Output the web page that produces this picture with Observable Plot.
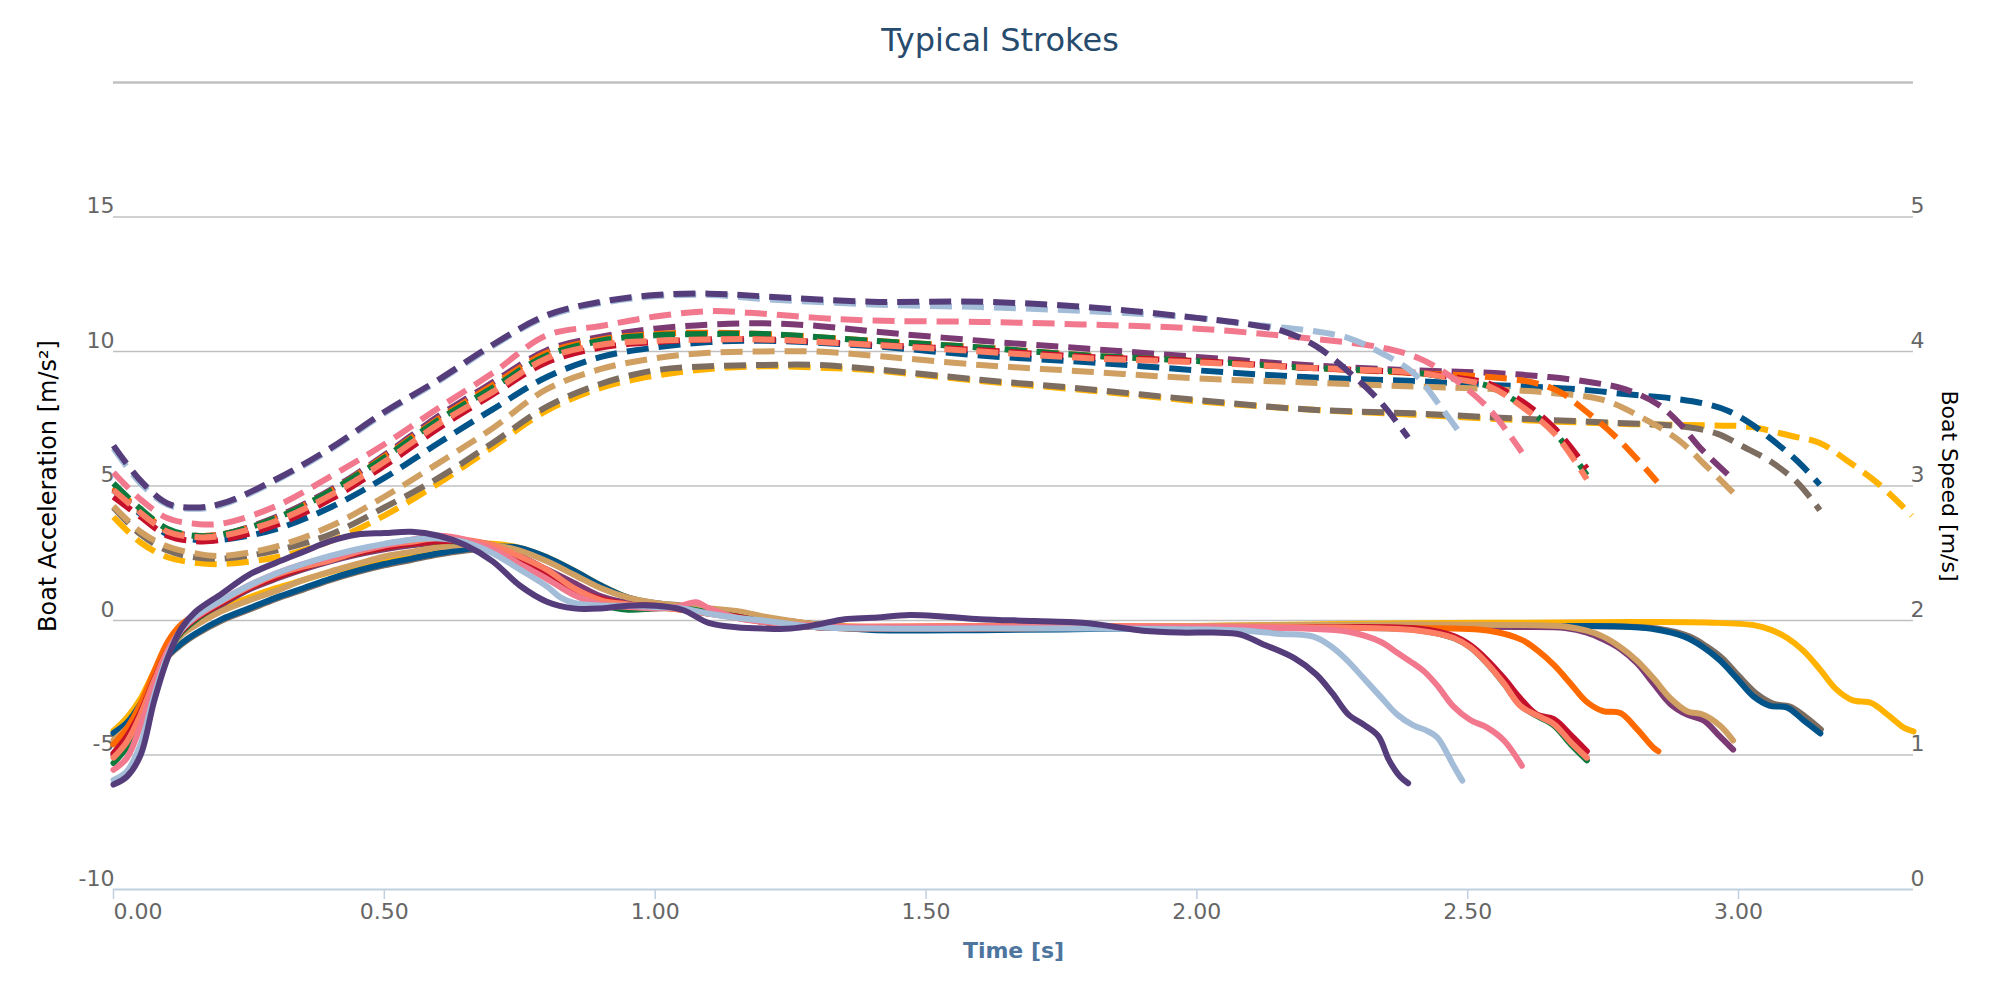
<!DOCTYPE html>
<html>
<head>
<meta charset="utf-8">
<script src="https://cdn.jsdelivr.net/npm/d3@7"></script>
<script src="https://cdn.jsdelivr.net/npm/@observablehq/plot@0.6"></script>
<style>
  html, body { margin: 0; padding: 0; background: #fff; }
  #title { height: 62px; box-sizing: border-box; padding-top: 21px; text-align: center;
           font-family: 'DejaVu Sans', sans-serif; font-size: 32px; line-height: 38px; color: #274b6d; }
</style>
</head>
<body>
<div id="title">Typical Strokes</div>
<div id="chart"></div>
<script>
// ---------- Data (time [s], value) ----------
const timeTicks = [0, 0.5, 1, 1.5, 2, 2.5, 3];
const accTicks = [-10, -5, 0, 5, 10, 15];
const speedTicks = [0, 1, 2, 3, 4, 5];

const seriesNames = ["Yellow", "Brown", "Navy", "Plum", "Tan", "Orange", "Green", "Red", "Salmon", "Pink", "Light blue", "Purple"];
const seriesColors = ["#ffb300", "#7d6d60", "#005489", "#7b3a73", "#d0a062", "#ff6a00", "#0b7a3c", "#c5102b", "#fd7e63", "#f2788e", "#a3bcd8", "#553c7b"];

// Boat speed [m/s]
const speedYellow = [[0,2.77],[0.05,2.58],[0.1,2.47],[0.15,2.43],[0.2,2.42],[0.3,2.47],[0.4,2.59],[0.5,2.78],[0.6,3.02],[0.7,3.29],[0.8,3.56],[0.9,3.73],[1.0,3.82],[1.1,3.87],[1.2,3.89],[1.3,3.88],[1.4,3.86],[1.6,3.78],[1.8,3.71],[2.0,3.63],[2.2,3.57],[2.4,3.53],[2.6,3.49],[2.8,3.46],[2.95,3.45],[3.02,3.44],[3.1,3.37],[3.15,3.32],[3.2,3.19],[3.26,3.01],[3.32,2.78]];
const speedBrown = [[0,2.84],[0.05,2.64],[0.1,2.52],[0.15,2.47],[0.2,2.46],[0.3,2.52],[0.4,2.64],[0.5,2.84],[0.6,3.06],[0.7,3.32],[0.8,3.59],[0.9,3.76],[1.0,3.86],[1.1,3.89],[1.2,3.90],[1.3,3.90],[1.4,3.87],[1.6,3.79],[1.8,3.72],[2.0,3.64],[2.2,3.57],[2.4,3.54],[2.6,3.50],[2.77,3.47],[2.9,3.44],[2.96,3.39],[3.01,3.29],[3.06,3.18],[3.11,3.02],[3.15,2.82]];
const speedNavy = [[0,2.97],[0.05,2.79],[0.1,2.64],[0.15,2.60],[0.2,2.60],[0.3,2.68],[0.4,2.84],[0.5,3.06],[0.6,3.32],[0.7,3.57],[0.8,3.81],[0.9,3.96],[1.0,4.03],[1.1,4.07],[1.2,4.08],[1.4,4.04],[1.6,3.97],[1.8,3.92],[2.0,3.86],[2.2,3.81],[2.4,3.78],[2.55,3.75],[2.7,3.72],[2.8,3.68],[2.88,3.65],[2.94,3.61],[2.98,3.56],[3.02,3.47],[3.06,3.35],[3.11,3.18],[3.15,3.01]];
const speedPlum = [[0,2.98],[0.05,2.81],[0.1,2.67],[0.15,2.63],[0.2,2.64],[0.3,2.77],[0.4,2.97],[0.5,3.23],[0.6,3.52],[0.7,3.77],[0.8,4.01],[0.9,4.11],[1.0,4.17],[1.1,4.20],[1.2,4.21],[1.3,4.19],[1.4,4.15],[1.6,4.08],[1.8,4.02],[2.0,3.96],[2.2,3.90],[2.4,3.86],[2.55,3.84],[2.65,3.81],[2.73,3.77],[2.79,3.72],[2.85,3.61],[2.89,3.47],[2.93,3.28],[2.99,3.05]];
const speedTan = [[0,2.85],[0.05,2.66],[0.1,2.55],[0.15,2.50],[0.2,2.48],[0.3,2.55],[0.4,2.70],[0.5,2.92],[0.6,3.17],[0.7,3.43],[0.8,3.72],[0.9,3.87],[1.0,3.95],[1.1,3.99],[1.2,4.00],[1.3,4.00],[1.4,3.97],[1.6,3.90],[1.8,3.85],[2.0,3.80],[2.2,3.77],[2.4,3.74],[2.55,3.72],[2.66,3.69],[2.75,3.64],[2.83,3.49],[2.89,3.34],[2.94,3.15],[2.99,2.95]];
const speedOrange = [[0,2.99],[0.05,2.82],[0.1,2.67],[0.15,2.63],[0.2,2.64],[0.3,2.76],[0.4,2.96],[0.5,3.22],[0.6,3.50],[0.7,3.75],[0.8,3.99],[0.9,4.09],[1.0,4.13],[1.1,4.14],[1.2,4.13],[1.4,4.08],[1.6,4.03],[1.8,3.97],[2.0,3.93],[2.2,3.88],[2.4,3.84],[2.54,3.81],[2.62,3.77],[2.67,3.70],[2.72,3.55],[2.78,3.34],[2.85,3.03]];
const speedGreen = [[0,3.02],[0.05,2.83],[0.1,2.68],[0.15,2.63],[0.2,2.64],[0.3,2.76],[0.4,2.96],[0.5,3.21],[0.6,3.49],[0.7,3.73],[0.8,3.97],[0.9,4.08],[1.0,4.12],[1.1,4.13],[1.2,4.13],[1.4,4.08],[1.6,4.03],[1.8,3.97],[2.0,3.93],[2.2,3.88],[2.41,3.84],[2.47,3.80],[2.54,3.74],[2.6,3.60],[2.66,3.40],[2.72,3.08]];
const speedRed = [[0,2.92],[0.05,2.77],[0.1,2.63],[0.15,2.59],[0.2,2.60],[0.3,2.71],[0.4,2.90],[0.5,3.15],[0.6,3.43],[0.7,3.68],[0.8,3.92],[0.9,4.03],[1.0,4.07],[1.1,4.09],[1.2,4.09],[1.4,4.05],[1.6,4.01],[1.8,3.96],[2.0,3.93],[2.2,3.88],[2.41,3.84],[2.47,3.81],[2.54,3.76],[2.6,3.63],[2.66,3.43],[2.72,3.13]];
const speedSalmon = [[0,2.97],[0.05,2.80],[0.1,2.66],[0.15,2.62],[0.2,2.63],[0.3,2.74],[0.4,2.93],[0.5,3.18],[0.6,3.46],[0.7,3.70],[0.8,3.95],[0.9,4.05],[1.0,4.08],[1.1,4.09],[1.2,4.09],[1.4,4.05],[1.6,4.00],[1.8,3.95],[2.0,3.92],[2.2,3.88],[2.41,3.84],[2.47,3.80],[2.54,3.74],[2.6,3.59],[2.66,3.39],[2.72,3.05]];
const speedPink = [[0,3.10],[0.05,2.90],[0.1,2.76],[0.15,2.72],[0.2,2.72],[0.3,2.85],[0.4,3.07],[0.5,3.31],[0.6,3.58],[0.7,3.84],[0.8,4.12],[0.9,4.19],[1.0,4.26],[1.1,4.30],[1.2,4.28],[1.3,4.25],[1.4,4.23],[1.6,4.22],[1.8,4.20],[2.0,4.17],[2.2,4.10],[2.34,4.03],[2.41,3.95],[2.47,3.81],[2.54,3.57],[2.6,3.25]];
const speedLightBlue = [[0,3.28],[0.05,3.02],[0.1,2.86],[0.15,2.83],[0.2,2.86],[0.3,3.04],[0.4,3.27],[0.5,3.54],[0.6,3.78],[0.7,4.04],[0.8,4.26],[0.9,4.36],[1.0,4.41],[1.1,4.42],[1.2,4.39],[1.4,4.35],[1.6,4.33],[1.8,4.30],[2.0,4.25],[2.1,4.20],[2.2,4.16],[2.28,4.10],[2.34,3.99],[2.4,3.84],[2.45,3.59],[2.49,3.37]];
const speedPurple = [[0,3.30],[0.05,3.04],[0.1,2.87],[0.15,2.84],[0.2,2.87],[0.3,3.05],[0.4,3.28],[0.5,3.55],[0.6,3.79],[0.7,4.05],[0.8,4.27],[0.9,4.37],[1.0,4.42],[1.1,4.43],[1.2,4.41],[1.4,4.37],[1.6,4.37],[1.8,4.33],[2.0,4.25],[2.1,4.20],[2.16,4.15],[2.22,4.04],[2.28,3.85],[2.34,3.62],[2.39,3.36]];

// Boat acceleration [m/s²]
const accYellow = [[0,-4.1],[0.025,-3.6],[0.05,-2.9],[0.075,-1.9],[0.1,-1.0],[0.125,-0.4],[0.15,-0.05],[0.2,0.45],[0.25,0.85],[0.3,1.2],[0.35,1.5],[0.4,1.8],[0.45,2.05],[0.5,2.3],[0.55,2.5],[0.6,2.7],[0.65,2.85],[0.7,2.85],[0.75,2.7],[0.8,2.35],[0.85,1.85],[0.9,1.3],[0.95,0.85],[1.0,0.6],[1.05,0.5],[1.1,0.4],[1.15,0.25],[1.2,0.1],[1.3,-0.15],[1.4,-0.25],[1.6,-0.28],[1.8,-0.25],[2.0,-0.2],[2.2,-0.15],[2.4,-0.1],[2.6,-0.08],[2.8,-0.06],[2.95,-0.08],[3.03,-0.18],[3.06,-0.35],[3.09,-0.65],[3.12,-1.13],[3.15,-1.81],[3.18,-2.55],[3.21,-2.96],[3.245,-3.07],[3.275,-3.5],[3.305,-3.98],[3.323,-4.12]];
const accBrown = [[0,-4.25],[0.025,-3.9],[0.05,-3.2],[0.075,-2.2],[0.1,-1.35],[0.125,-0.9],[0.15,-0.55],[0.2,0.0],[0.25,0.4],[0.3,0.8],[0.35,1.15],[0.4,1.5],[0.45,1.8],[0.5,2.05],[0.55,2.25],[0.6,2.45],[0.65,2.6],[0.7,2.7],[0.75,2.65],[0.8,2.3],[0.85,1.8],[0.9,1.25],[0.95,0.85],[1.0,0.65],[1.05,0.55],[1.1,0.4],[1.15,0.25],[1.2,0.1],[1.3,-0.15],[1.4,-0.3],[1.6,-0.32],[1.8,-0.28],[2.0,-0.25],[2.2,-0.22],[2.4,-0.2],[2.6,-0.2],[2.78,-0.22],[2.85,-0.3],[2.91,-0.6],[2.94,-0.95],[2.97,-1.4],[3.0,-2.05],[3.035,-2.75],[3.065,-3.1],[3.095,-3.2],[3.125,-3.6],[3.152,-4.05]];
const accNavy = [[0,-4.18],[0.025,-3.8],[0.05,-3.1],[0.075,-2.1],[0.1,-1.3],[0.125,-0.85],[0.15,-0.5],[0.2,0.05],[0.25,0.45],[0.3,0.85],[0.35,1.2],[0.4,1.55],[0.45,1.85],[0.5,2.1],[0.55,2.3],[0.6,2.5],[0.65,2.65],[0.7,2.75],[0.75,2.7],[0.8,2.35],[0.85,1.85],[0.9,1.3],[0.95,0.85],[1.0,0.6],[1.05,0.5],[1.1,0.35],[1.15,0.2],[1.2,0.05],[1.3,-0.2],[1.4,-0.35],[1.6,-0.36],[1.8,-0.32],[2.0,-0.27],[2.2,-0.24],[2.4,-0.22],[2.6,-0.22],[2.78,-0.22],[2.84,-0.31],[2.9,-0.6],[2.935,-0.99],[2.965,-1.47],[2.997,-2.15],[3.028,-2.83],[3.058,-3.17],[3.089,-3.23],[3.12,-3.71],[3.151,-4.2]];
const accPlum = [[0,-5.0],[0.025,-4.4],[0.05,-3.5],[0.075,-2.3],[0.1,-1.2],[0.125,-0.45],[0.15,0.0],[0.2,0.6],[0.25,1.15],[0.3,1.55],[0.35,1.9],[0.4,2.2],[0.45,2.45],[0.5,2.65],[0.55,2.8],[0.6,2.9],[0.65,2.95],[0.7,2.8],[0.75,2.4],[0.8,1.9],[0.85,1.4],[0.9,0.9],[0.95,0.65],[1.0,0.55],[1.05,0.45],[1.1,0.35],[1.15,0.2],[1.2,0.05],[1.3,-0.2],[1.4,-0.3],[1.6,-0.3],[1.8,-0.27],[2.0,-0.25],[2.2,-0.24],[2.4,-0.24],[2.6,-0.24],[2.68,-0.28],[2.72,-0.45],[2.75,-0.7],[2.782,-1.06],[2.813,-1.6],[2.843,-2.35],[2.874,-3.1],[2.905,-3.5],[2.935,-3.71],[2.966,-4.32],[2.99,-4.8]];
const accTan = [[0,-4.45],[0.025,-4.0],[0.05,-3.3],[0.075,-2.2],[0.1,-1.15],[0.125,-0.55],[0.15,-0.2],[0.2,0.35],[0.25,0.75],[0.3,1.1],[0.35,1.5],[0.4,1.82],[0.45,2.1],[0.5,2.38],[0.55,2.55],[0.6,2.72],[0.65,2.82],[0.7,2.8],[0.75,2.6],[0.8,2.2],[0.85,1.7],[0.9,1.2],[0.95,0.85],[1.0,0.65],[1.05,0.55],[1.1,0.45],[1.15,0.35],[1.2,0.15],[1.3,-0.15],[1.4,-0.3],[1.6,-0.28],[1.8,-0.24],[2.0,-0.2],[2.2,-0.17],[2.4,-0.15],[2.6,-0.17],[2.68,-0.22],[2.72,-0.38],[2.75,-0.6],[2.782,-0.99],[2.813,-1.5],[2.843,-2.15],[2.874,-2.89],[2.905,-3.37],[2.935,-3.5],[2.966,-3.91],[2.99,-4.46]];
const accOrange = [[0,-4.6],[0.025,-4.0],[0.05,-3.1],[0.075,-1.9],[0.1,-0.8],[0.125,-0.15],[0.15,0.2],[0.2,0.7],[0.25,1.2],[0.3,1.6],[0.35,1.95],[0.4,2.25],[0.45,2.5],[0.5,2.7],[0.55,2.85],[0.6,2.95],[0.65,2.95],[0.7,2.75],[0.75,2.3],[0.8,1.75],[0.85,1.15],[0.9,0.75],[0.95,0.55],[1.0,0.5],[1.05,0.4],[1.1,0.3],[1.15,0.15],[1.2,-0.05],[1.3,-0.25],[1.4,-0.3],[1.6,-0.3],[1.8,-0.27],[2.0,-0.26],[2.2,-0.26],[2.4,-0.28],[2.54,-0.38],[2.6,-0.72],[2.63,-1.13],[2.66,-1.67],[2.69,-2.35],[2.72,-3.03],[2.75,-3.37],[2.782,-3.44],[2.813,-4.05],[2.843,-4.73],[2.852,-4.86]];
const accGreen = [[0,-5.3],[0.025,-4.7],[0.05,-3.7],[0.075,-2.4],[0.1,-1.2],[0.125,-0.45],[0.15,0.0],[0.2,0.65],[0.25,1.2],[0.3,1.6],[0.35,1.95],[0.4,2.25],[0.45,2.5],[0.5,2.7],[0.55,2.85],[0.6,2.95],[0.65,2.9],[0.7,2.7],[0.75,2.3],[0.8,1.7],[0.85,1.1],[0.9,0.6],[0.95,0.4],[1.0,0.45],[1.05,0.45],[1.1,0.3],[1.15,0.15],[1.2,-0.05],[1.3,-0.25],[1.4,-0.3],[1.6,-0.3],[1.8,-0.27],[2.0,-0.27],[2.2,-0.27],[2.41,-0.36],[2.474,-0.65],[2.505,-1.0],[2.536,-1.6],[2.567,-2.35],[2.597,-3.15],[2.628,-3.55],[2.659,-3.9],[2.69,-4.6],[2.72,-5.2]];
const accRed = [[0,-4.93],[0.025,-4.3],[0.05,-3.4],[0.075,-2.2],[0.1,-1.1],[0.125,-0.4],[0.15,0.05],[0.2,0.65],[0.25,1.2],[0.3,1.6],[0.35,1.95],[0.4,2.25],[0.45,2.5],[0.5,2.7],[0.55,2.85],[0.6,2.95],[0.65,2.95],[0.7,2.75],[0.75,2.3],[0.8,1.75],[0.85,1.15],[0.9,0.8],[0.95,0.6],[1.0,0.55],[1.05,0.4],[1.1,0.25],[1.15,0.15],[1.2,-0.05],[1.3,-0.25],[1.4,-0.3],[1.6,-0.3],[1.8,-0.26],[2.0,-0.25],[2.2,-0.25],[2.41,-0.31],[2.474,-0.58],[2.505,-0.92],[2.536,-1.47],[2.567,-2.15],[2.597,-2.89],[2.628,-3.5],[2.659,-3.67],[2.69,-4.25],[2.72,-4.86]];
const accSalmon = [[0,-5.1],[0.025,-4.5],[0.05,-3.5],[0.075,-2.25],[0.1,-1.1],[0.125,-0.35],[0.15,0.1],[0.2,0.72],[0.25,1.25],[0.3,1.69],[0.35,2.0],[0.4,2.24],[0.45,2.55],[0.5,2.79],[0.55,2.93],[0.6,3.07],[0.65,3.0],[0.7,2.79],[0.75,2.38],[0.8,1.89],[0.85,1.2],[0.9,0.75],[0.95,0.6],[1.0,0.5],[1.05,0.4],[1.1,0.25],[1.15,0.1],[1.2,-0.05],[1.3,-0.2],[1.4,-0.22],[1.6,-0.2],[1.8,-0.2],[2.0,-0.22],[2.2,-0.25],[2.41,-0.38],[2.474,-0.65],[2.505,-1.0],[2.536,-1.6],[2.567,-2.35],[2.597,-3.17],[2.628,-3.53],[2.659,-3.85],[2.69,-4.52],[2.72,-5.1]];
const accPink = [[0,-5.55],[0.025,-5.1],[0.05,-3.9],[0.075,-2.4],[0.1,-1.15],[0.125,-0.35],[0.15,0.1],[0.2,0.75],[0.25,1.3],[0.3,1.75],[0.35,2.1],[0.4,2.35],[0.45,2.6],[0.5,2.8],[0.55,3.0],[0.6,3.15],[0.65,3.0],[0.7,2.65],[0.75,2.1],[0.8,1.55],[0.85,0.95],[0.9,0.6],[0.95,0.5],[1.0,0.45],[1.04,0.5],[1.075,0.68],[1.1,0.45],[1.15,0.1],[1.2,-0.05],[1.3,-0.2],[1.4,-0.25],[1.6,-0.25],[1.8,-0.25],[2.0,-0.25],[2.2,-0.3],[2.28,-0.42],[2.34,-0.8],[2.37,-1.2],[2.4,-1.6],[2.42,-1.9],[2.444,-2.42],[2.474,-3.2],[2.505,-3.7],[2.536,-3.98],[2.567,-4.46],[2.6,-5.4]];
const accLightBlue = [[0,-5.93],[0.025,-5.6],[0.05,-4.6],[0.075,-2.8],[0.1,-1.3],[0.125,-0.35],[0.15,0.15],[0.2,0.75],[0.25,1.3],[0.3,1.75],[0.35,2.1],[0.4,2.4],[0.45,2.65],[0.5,2.85],[0.55,3.0],[0.6,3.05],[0.65,2.9],[0.7,2.5],[0.75,1.9],[0.8,1.27],[0.825,0.86],[0.85,0.65],[0.9,0.55],[0.95,0.55],[1.0,0.5],[1.05,0.45],[1.1,0.25],[1.15,0.1],[1.2,0.0],[1.3,-0.25],[1.4,-0.3],[1.6,-0.3],[1.8,-0.3],[2.0,-0.33],[2.09,-0.38],[2.15,-0.49],[2.215,-0.6],[2.245,-0.92],[2.277,-1.47],[2.308,-2.15],[2.339,-2.83],[2.37,-3.5],[2.4,-3.9],[2.425,-4.1],[2.444,-4.35],[2.474,-5.4],[2.49,-5.95]];
const accPurple = [[0,-6.1],[0.025,-5.8],[0.05,-5.0],[0.075,-3.0],[0.1,-1.4],[0.125,-0.3],[0.15,0.3],[0.2,1.0],[0.25,1.7],[0.3,2.15],[0.35,2.55],[0.4,2.95],[0.45,3.2],[0.5,3.25],[0.55,3.3],[0.6,3.15],[0.65,2.8],[0.7,2.2],[0.75,1.3],[0.8,0.7],[0.85,0.45],[0.9,0.45],[0.95,0.55],[1.0,0.55],[1.05,0.4],[1.1,-0.1],[1.15,-0.25],[1.2,-0.3],[1.25,-0.3],[1.3,-0.15],[1.35,0.05],[1.4,0.1],[1.47,0.2],[1.53,0.15],[1.6,0.05],[1.7,-0.02],[1.8,-0.1],[1.85,-0.24],[1.9,-0.38],[1.97,-0.45],[2.03,-0.45],[2.08,-0.52],[2.12,-0.86],[2.18,-1.4],[2.22,-2.0],[2.25,-2.7],[2.28,-3.5],[2.31,-3.9],[2.335,-4.3],[2.355,-5.2],[2.375,-5.8],[2.39,-6.05]];

const speedData = [speedYellow, speedBrown, speedNavy, speedPlum, speedTan, speedOrange, speedGreen, speedRed, speedSalmon, speedPink, speedLightBlue, speedPurple];
const accData = [accYellow, accBrown, accNavy, accPlum, accTan, accOrange, accGreen, accRed, accSalmon, accPink, accLightBlue, accPurple];

// speed axis (right) shares the plot's y scale: 0..5 m/s ↔ -10..15 m/s²
const speedToAcc = s => 5 * s - 10;

const font = "'DejaVu Sans', sans-serif";

const speedMarks = seriesNames.map((name, i) => Plot.line(speedData[i], {
  x: d => d[0], y: d => speedToAcc(d[1]),
  stroke: seriesColors[i], strokeWidth: 6, strokeDasharray: "22,10",
  strokeLinecap: "butt", curve: "catmull-rom"
}));
const accMarks = seriesNames.map((name, i) => Plot.line(accData[i], {
  x: d => d[0], y: d => d[1],
  stroke: seriesColors[i], strokeWidth: 6, strokeLinejoin: "round",
  strokeLinecap: "round", curve: "catmull-rom"
}));

const chart = Plot.plot({
  width: 2000,
  height: 938,
  marginTop: 20,
  marginBottom: 111,
  marginLeft: 113,
  marginRight: 87,
  style: { fontFamily: font, background: "#fff", overflow: "visible" },
  x: { domain: [0, 3.323] },
  y: { domain: [-10, 20] },
  marks: [
    Plot.gridY(accTicks.filter(d => d > -10), { stroke: "#c0c0c0", strokeOpacity: 1, strokeWidth: 1.5 }),
    Plot.ruleY([20], { stroke: "#c0c0c0", strokeWidth: 2.5 }),
    Plot.ruleY([-10], { stroke: "#c0d0e0", strokeWidth: 2 }),
    Plot.axisX(timeTicks.slice(1), {
      tickSize: 10, tickPadding: 4, stroke: "#c0d0e0", strokeWidth: 1.5, fill: "#666",
      tickFormat: d => d.toFixed(2), fontSize: 22, label: null
    }),
    Plot.axisX(timeTicks.slice(0, 1), {
      tickSize: 10, tickPadding: 4, stroke: "#c0d0e0", strokeWidth: 1.5, fill: "#666",
      tickFormat: d => d.toFixed(2), fontSize: 22, textAnchor: "start", label: null
    }),
    Plot.axisY(accTicks, {
      anchor: "left", tickSize: 0, tickPadding: 0, dx: 1, dy: -4, lineAnchor: "bottom",
      textAnchor: "end", fill: "#666", fontSize: 22, tickFormat: d => String(d), label: null
    }),
    Plot.axisY(speedTicks.map(speedToAcc), {
      anchor: "right", tickSize: 0, tickPadding: 0, dx: -3, dy: -4, lineAnchor: "bottom",
      textAnchor: "start", fill: "#666", fontSize: 22, tickFormat: d => String((d + 10) / 5), label: null
    }),
    Plot.text(["Boat Acceleration [m/s²]"], {
      text: d => d, frameAnchor: "left", dx: -65, rotate: -90, fontSize: 24, fill: "#000",
      textAnchor: "middle", lineAnchor: "middle"
    }),
    Plot.text(["Boat Speed [m/s]"], {
      text: d => d, frameAnchor: "right", dx: 36, rotate: 90, fontSize: 22, fill: "#000",
      textAnchor: "middle", lineAnchor: "middle"
    }),
    Plot.text(["Time [s]"], {
      text: d => d, frameAnchor: "bottom", dy: 61, fontSize: 22, fontWeight: "bold", fill: "#4d759e",
      textAnchor: "middle", lineAnchor: "middle"
    }),
    ...speedMarks,
    ...accMarks
  ]
});
document.getElementById("chart").appendChild(chart);
</script>
</body>
</html>
